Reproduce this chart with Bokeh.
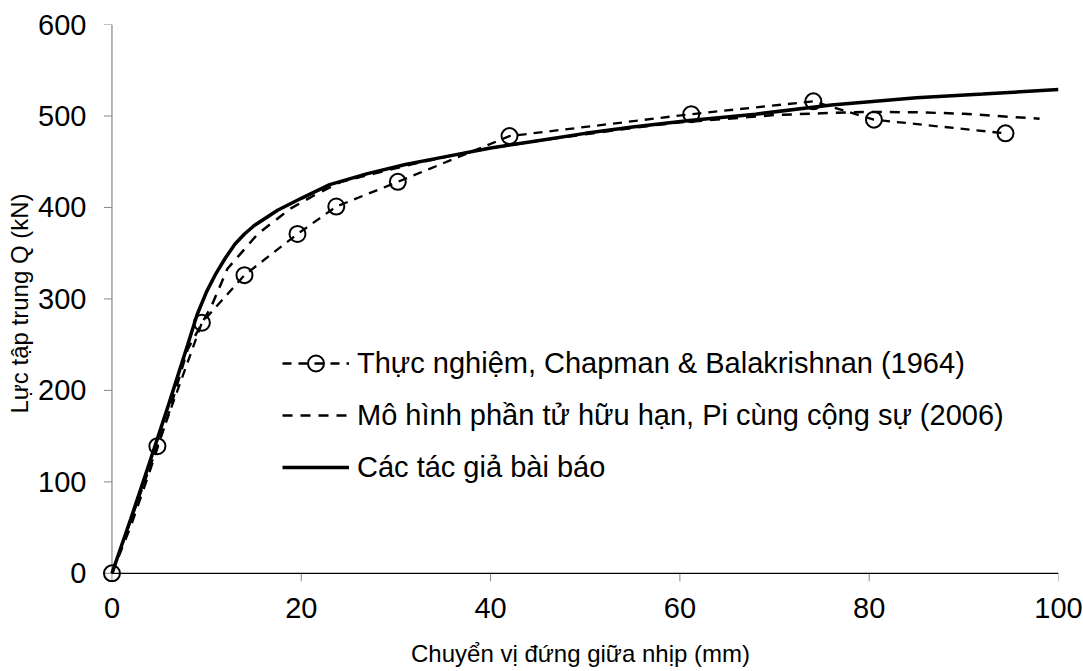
from bokeh.plotting import figure
from bokeh.models import Range1d, Legend, LegendItem, FixedTicker
from bokeh.embed import file_html
from bokeh.resources import INLINE

# Experimental data: Chapman & Balakrishnan (1964)
exp_x = [0, 4.8, 9.5, 14.0, 19.6, 23.7, 30.2, 42.0, 61.2, 74.1, 80.5, 94.4]
exp_y = [0, 139, 274, 326, 371, 401, 428, 478, 502, 516, 496, 481]

# FEM model: Pi et al. (2006)
fem_x = [0, 2, 4, 6, 8, 9.7, 10.5, 12.2, 15.4, 18.9, 21.5, 24.2, 27.7, 32, 36, 40,
         45, 50, 55, 60, 65, 70, 75, 80, 85, 90, 95, 98]
fem_y = [0, 52, 112, 175, 245, 277, 292, 333, 371, 399, 414, 428, 437, 448, 457, 465,
         473, 480, 487, 493, 497, 501, 503, 504.5, 504, 502.5, 499, 497]

# Authors' model
aut_x = [0, 2, 4, 6, 8, 9, 10, 11, 12, 13, 14, 15, 17.5, 20, 23, 27, 31, 35, 40,
         45, 50, 55, 61, 68, 76, 85, 92, 100]
aut_y = [0, 60, 122, 185, 250, 283, 308, 328, 345, 360, 371, 380, 397, 410, 425, 437,
         447, 455, 465, 473, 481, 488, 495, 502, 512, 520, 524, 529]

x_ticks = [0, 20, 40, 60, 80, 100]
y_ticks = [0, 100, 200, 300, 400, 500, 600]

label_exp = "Thực nghiệm, Chapman & Balakrishnan (1964)"
label_fem = "Mô hình phần tử hữu hạn, Pi cùng cộng sự (2006)"
label_aut = "Các tác giả bài báo"
x_title = "Chuyển vị đứng giữa nhịp (mm)"
y_title = "Lực tập trung Q (kN)"

FONT = "Liberation Sans"

# a little room around the origin so the marker at (0, 0) is not cut off
XPAD, YPAD = 1.0, 10.0
x0, x1 = x_ticks[0], x_ticks[-1]
y0, y1 = y_ticks[0], y_ticks[-1]

p = figure(width=1083, height=671, output_backend="svg", toolbar_location=None,
           x_range=Range1d(x0 - XPAD, x1), y_range=Range1d(y0 - YPAD, y1))
p.min_border_left = 102
p.min_border_right = 25
p.min_border_top = 24
p.min_border_bottom = 89
p.outline_line_color = None
p.grid.grid_line_color = None
p.background_fill_color = "white"
p.border_fill_color = "white"

# axis rules and tick marks drawn at the data origin
TICK_X = 0.85   # ~8 px in x units
TICK_Y = 8.7    # ~8 px in y units
p.segment(x0=[x0] * len(y_ticks), y0=y_ticks, x1=[x0 - TICK_X] * len(y_ticks), y1=y_ticks,
          line_color="#868686", line_width=1)
p.segment(x0=x_ticks, y0=[y0] * len(x_ticks), x1=x_ticks, y1=[y0 - TICK_Y] * len(x_ticks),
          line_color="#868686", line_width=1)
p.segment(x0=[x0], y0=[y0], x1=[x0], y1=[y1], line_color="#868686", line_width=1.2)
p.segment(x0=[x0], y0=[y0], x1=[x1], y1=[y0], line_color="black", line_width=1.2)

r_exp_line = p.line(exp_x, exp_y, line_color="black", line_width=2.3, line_dash="9 7")
r_exp_pts = p.scatter(exp_x, exp_y, marker="circle", size=16, fill_color=None,
                      line_color="black", line_width=2)
r_fem = p.line(fem_x, fem_y, line_color="black", line_width=2.5, line_dash="10 8")
r_aut = p.line(aut_x, aut_y, line_color="black", line_width=3.5)

legend = Legend(items=[
    LegendItem(label=label_exp, renderers=[r_exp_line, r_exp_pts]),
    LegendItem(label=label_fem, renderers=[r_fem]),
    LegendItem(label=label_aut, renderers=[r_aut]),
], location=(180, 95))
legend.padding = 0
legend.margin = 0
legend.spacing = 12
legend.glyph_width = 67
legend.glyph_height = 40
legend.label_height = 40
legend.label_standoff = 8
legend.border_line_alpha = 0
legend.background_fill_alpha = 0
legend.label_text_font = FONT
legend.label_text_font_size = "29px"
legend.label_text_color = "black"
p.add_layout(legend, "center")

for ax in (p.xaxis[0], p.yaxis[0]):
    ax.major_label_text_font = FONT
    ax.major_label_text_font_size = "29px"
    ax.major_label_text_color = "black"
    ax.axis_label_text_font = FONT
    ax.axis_label_text_font_size = "24px"
    ax.axis_label_text_font_style = "normal"
    ax.axis_label_text_color = "black"
    ax.major_tick_in = 0
    ax.major_tick_out = 0
    ax.minor_tick_line_color = None
    ax.major_tick_line_color = None
    ax.axis_line_color = None

p.xaxis[0].ticker = FixedTicker(ticks=x_ticks)
p.yaxis[0].ticker = FixedTicker(ticks=y_ticks)
p.xaxis[0].axis_label = x_title
p.yaxis[0].axis_label = y_title
p.xaxis[0].major_label_standoff = 15
p.yaxis[0].major_label_standoff = 16
p.xaxis[0].axis_label_standoff = 19
p.yaxis[0].axis_label_standoff = 2

open("out.html", "w").write(file_html(p, INLINE))
